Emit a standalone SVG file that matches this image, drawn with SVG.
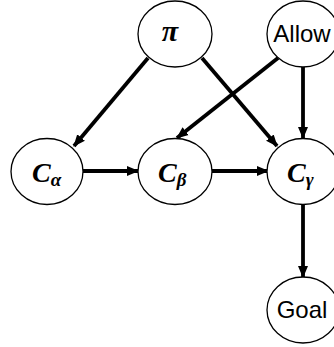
<svg xmlns="http://www.w3.org/2000/svg" width="334" height="347" viewBox="0 0 334 347">
<style>
.n{fill:#fff;stroke:#000;stroke-width:1.3}
.m{font-family:"Liberation Serif","DejaVu Serif",serif;font-weight:bold;font-style:italic;fill:#000}
.s{font-family:"Liberation Sans",Arial,sans-serif;font-size:24px;fill:#000}
.e{stroke:#000;stroke-width:3.8;fill:none;marker-end:url(#ah)}
</style>
<defs>
<marker id="ah" markerUnits="userSpaceOnUse" markerWidth="12" markerHeight="12" viewBox="0 0 12 12" refX="11" refY="6" orient="auto">
<path d="M0,1 L12,6 L0,11 Z" fill="#000"/>
</marker>
</defs>
<g id="connectors">
<line class="e" x1="148" y1="58" x2="74" y2="146"/>
<line class="e" x1="202" y1="58" x2="277" y2="146"/>
<line class="e" x1="278" y1="58" x2="177" y2="138"/>
<line class="e" x1="303" y1="67" x2="303" y2="138"/>
<line class="e" x1="83" y1="171" x2="138" y2="171"/>
<line class="e" x1="212" y1="171" x2="268" y2="171"/>
<line class="e" x1="303" y1="205" x2="303" y2="277"/>
</g>
<g id="pi">
<ellipse class="n" cx="175" cy="34" rx="37" ry="33"/>
<text class="m" x="170" y="41" font-size="30" text-anchor="middle">π</text>
</g>
<g id="allow">
<ellipse class="n" cx="303" cy="34" rx="36" ry="33"/>
<text class="s" x="302" y="42" text-anchor="middle">Allow</text>
</g>
<g id="calpha">
<ellipse class="n" cx="47" cy="171.5" rx="36" ry="33"/>
<text class="m" x="32" y="182" font-size="28">C<tspan font-size="19" dy="4">α</tspan></text>
</g>
<g id="cbeta">
<ellipse class="n" cx="175" cy="171.5" rx="37" ry="33"/>
<text class="m" x="158" y="182" font-size="28">C<tspan font-size="19" dy="4">β</tspan></text>
</g>
<g id="cgamma">
<ellipse class="n" cx="303" cy="171.5" rx="36" ry="33"/>
<text class="m" x="287" y="182" font-size="28">C<tspan font-size="19" dy="4">γ</tspan></text>
</g>
<g id="goal">
<ellipse class="n" cx="303" cy="310" rx="36" ry="33"/>
<text class="s" x="302" y="318" text-anchor="middle">Goal</text>
</g>
</svg>
